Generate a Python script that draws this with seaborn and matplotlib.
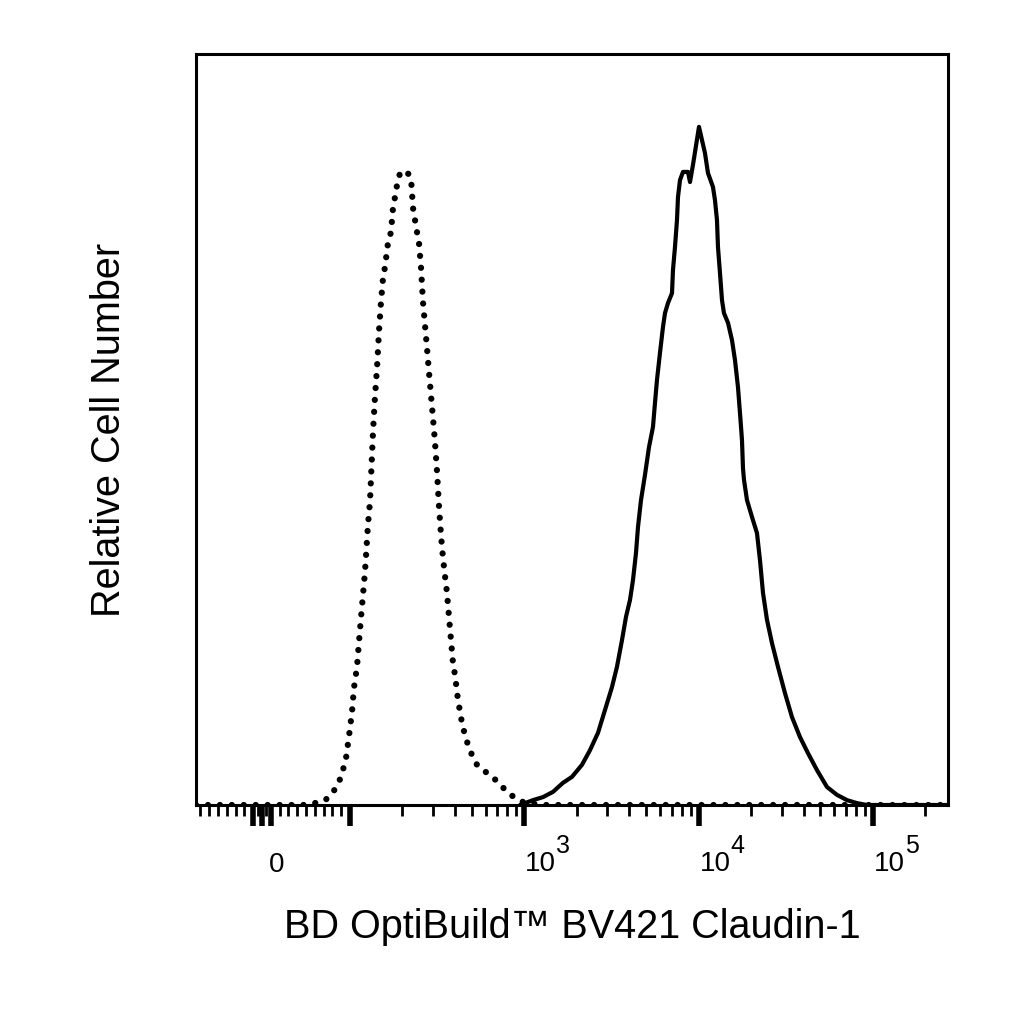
import matplotlib
matplotlib.use("Agg")
import matplotlib.pyplot as plt
import seaborn as sns
from matplotlib.ticker import FixedLocator, NullFormatter

# ---------------- data (fluorescence intensity vs relative cell count) ----------------
ctrl_x = [-75, 32, 47, 60, 72, 81, 87.5, 92, 95.5, 99, 102.7, 105.4, 109.7, 112.6, 115.6,
          118.7, 121.9, 126.8, 130.2, 132.0, 135.5, 139.1, 142.9, 146.7, 150.6, 154.7,
          158.8, 165.2, 171.9, 176.5, 181.2, 186.1, 193.6, 204.1, 212.3, 223.9, 229.9,
          236.0, 242.3, 248.8, 255.4, 262.3, 269.3, 276.5, 283.9, 291.5, 299.3, 307.3,
          315.6, 324.0, 332.7, 341.6, 350.8, 360.1, 369.8, 379.7, 389.9, 400.3, 416.5,
          439.2, 457.0, 475.4, 501.2, 535.4, 579.7, 635.8, 706.6, 795.6, 884.6, 982.9,
          1122, 1315, 269800]
ctrl_y = [0, 0, 0, 0.5, 1.3, 3.5, 6.1, 9.3, 12.5, 18.6, 24.8, 31.2, 36.8, 43.4, 49.8,
          55.9, 62.1, 74.6, 80.7, 87.1, 99.3, 108.7, 116.4, 126.2, 134.0, 140.3,
          143.3, 149.7, 152.6, 159.0, 161.9, 165.1, 168.3, 168.9, 168.6, 167.0, 159.0,
          155.8, 152.6, 149.7, 143.3, 134.0, 127.8, 121.7, 115.3, 109.2, 103.1, 96.7,
          88.9, 79.6, 71.9, 65.8, 61.0, 56.5, 50.1, 43.9, 37.8, 34.6, 28.0,
          21.8, 18.6, 16.0, 13.3, 10.7, 9.3, 8.0, 6.1, 3.5, 1.9, 0.8,
          0.3, 0, 0]

stain_x = [945, 1009, 1122, 1280, 1461, 1667, 1878, 2143, 2382, 2647, 2904, 3185, 3402,
           3635, 3833, 4041, 4204, 4374, 4491, 4673, 4926, 5194, 5475, 5622, 5772, 6005,
           6248, 6416, 6677, 7038, 7131, 7322, 7518, 7618, 7822, 8138, 8695, 8928, 9288,
           10053, 10459, 10882, 11321, 12092, 12416, 12750, 12920, 13266, 13622, 13983,
           14753, 15548, 16175, 16827, 17279, 17742, 17978, 18218, 18954, 20252, 21633,
           22508, 23417, 24689, 26376, 28547, 31309, 34355, 38177, 42434, 47783, 54532,
           62230, 71024, 81046, 92500, 269800]
stain_y = [0, 0.5, 1.3, 2.1, 3.5, 5.9, 7.5, 10.7, 14.6, 19.2, 25.3, 31.4, 36.8,
           43.9, 50.1, 54.6, 59.9, 67.1, 74.0, 81.2, 87.9, 95.3, 100.7, 107.1, 113.2, 120.4,
           127.3, 131.0, 133.7, 136.3, 142.5, 148.6, 155.8, 161.9, 166.4, 168.6, 168.6, 165.9, 170.5,
           180.6, 177.1, 173.6, 168.3, 164.6, 161.1, 155.8, 148.6, 141.7, 134.5, 131.0,
           128.4, 123.8, 118.5, 111.3, 104.4, 97.2, 89.7, 86.6, 81.2, 76.7, 72.4,
           65.2, 56.5, 49.3, 43.1, 36.8, 29.8, 23.4, 18.1, 13.8, 9.3, 4.8,
           2.7, 1.3, 0.5, 0, 0]

major_ticks = [-10, 0, 10, 100, 1e3, 1e4, 1e5]
minor_ticks = ([-70, -60, -50, -40, -30, -20, -5, 5, 20, 30, 40, 50, 60, 70, 80, 90]
               + [k * 10 ** e for e in (2, 3, 4) for k in range(2, 10)] + [2e5])
label_zero = 0
decade_values = [1e3, 1e4, 1e5]
decade_exponents = ["3", "4", "5"]

x_label = "BD OptiBuild\u2122 BV421 Claudin-1"
y_label = "Relative Cell Number"

# ---------------- figure ----------------
sns.set_theme(style="white")
plt.rcParams["font.family"] = ["Liberation Sans", "DejaVu Sans"]
plt.rcParams["text.color"] = "black"
plt.rcParams["axes.labelcolor"] = "black"

fig = plt.figure(figsize=(10.24, 10.24), dpi=100)
ax = fig.add_axes([196 / 1024, 219 / 1024, 752 / 1024, 751 / 1024])
ax.set_xscale("symlog", linthresh=100, linscale=0.4544, base=10)

sns.lineplot(x=ctrl_x, y=ctrl_y, ax=ax, color="black", linewidth=4.5,
             linestyle=(0, (0.01, 1.9)), dash_capstyle="round", estimator=None)
sns.lineplot(x=stain_x, y=stain_y, ax=ax, color="black", linewidth=3.0,
             estimator=None)

ax.set_xlim(-75, 2.698e5)
ax.set_ylim(0, 200)

for s in ax.spines.values():
    s.set_visible(True)
    s.set_color("black")
    s.set_linewidth(2.2)

ax.xaxis.set_major_locator(FixedLocator(major_ticks))
ax.xaxis.set_minor_locator(FixedLocator(minor_ticks))
ax.xaxis.set_major_formatter(NullFormatter())
ax.xaxis.set_minor_formatter(NullFormatter())
ax.tick_params(axis="x", which="major", bottom=True, direction="out",
               length=15, width=4, color="black")
ax.tick_params(axis="x", which="minor", bottom=True, direction="out",
               length=8, width=2, color="black")
ax.tick_params(axis="y", which="both", left=False, labelleft=False)
ax.grid(False)

# tick labels
ax.annotate("0", xy=(label_zero, 0), xycoords=("data", "axes fraction"),
            xytext=(7, -67), textcoords="offset pixels", ha="left", va="baseline",
            fontsize=20, color="black", annotation_clip=False)
for v, e in zip(decade_values, decade_exponents):
    t = ax.annotate("10", xy=(v, 0), xycoords=("data", "axes fraction"),
                    xytext=(1, -66), textcoords="offset pixels", ha="left",
                    va="baseline", fontsize=20, color="black", annotation_clip=False)
    ax.annotate(e, xy=(1, 0), xycoords=t, xytext=(0, 24),
                textcoords="offset pixels", ha="left", va="baseline",
                fontsize=18, color="black", annotation_clip=False)

ax.set_xlabel(x_label, fontsize=28.5)
ax.xaxis.set_label_coords(0.5, -0.137)
ax.set_ylabel(y_label, fontsize=28.5)
ax.yaxis.set_label_coords(-0.09, 0.5)

fig.savefig("out.png", dpi=100, facecolor="white")
